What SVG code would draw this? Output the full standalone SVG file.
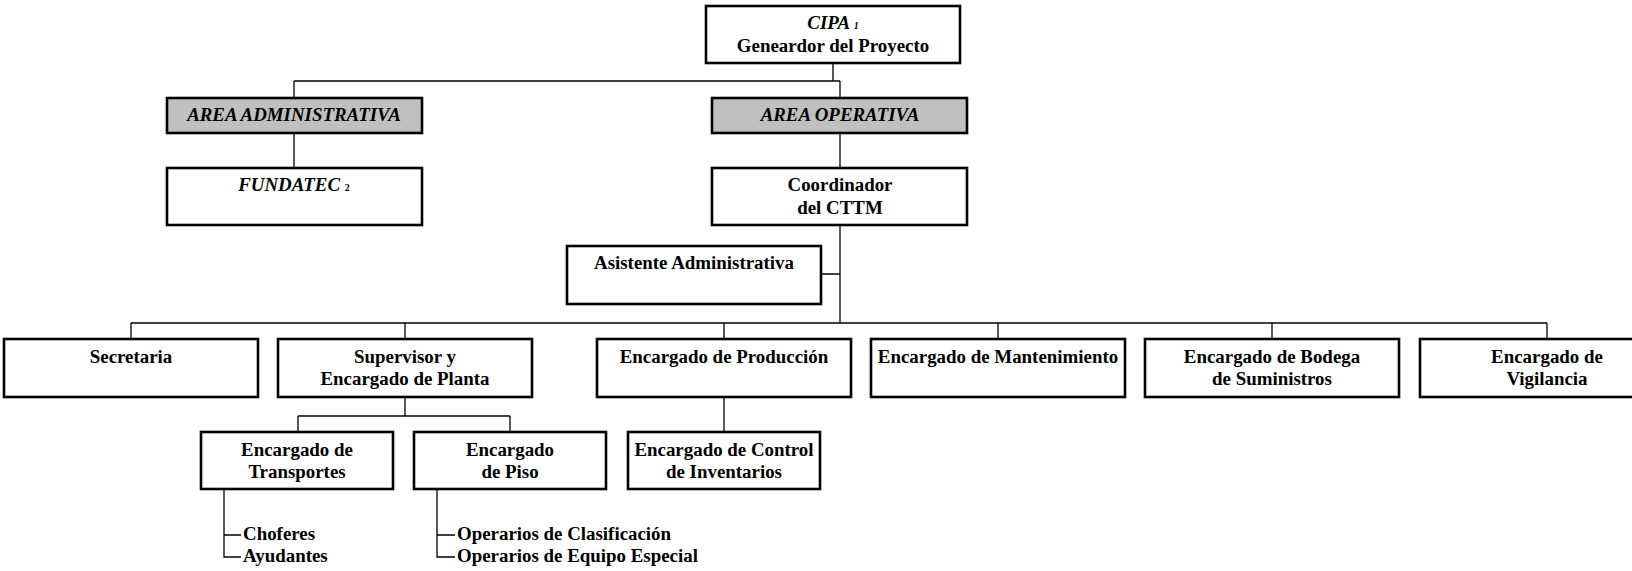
<svg xmlns="http://www.w3.org/2000/svg" width="1632" height="571" viewBox="0 0 1632 571">
<style>
.box{fill:#fff;stroke:#000;stroke-width:2.6}
.grey{fill:#c0c0c0;stroke:#000;stroke-width:2.6}
.ln{fill:none;stroke:#000;stroke-width:1.3}
text{font-family:"Liberation Serif","Times New Roman",serif;font-weight:bold;font-size:18.9px;fill:#000}
.c{text-anchor:middle}
.i{font-style:italic}
.sub{font-size:10px}
</style>
<rect width="1632" height="571" fill="#fff"/>
<g id="connectors">
<path class="ln" d="M833,63 V81 M294,81 H840 M294,81 V98 M840,81 V98"/>
<path class="ln" d="M294,133 V168 M840,133 V168"/>
<path class="ln" d="M840,225 V323 M821,274 H840"/>
<path class="ln" d="M131,323 H1547 M131,323 V338 M405,323 V338 M724,323 V338 M998,323 V338 M1272,323 V338 M1547,323 V338"/>
<path class="ln" d="M405,397 V416 M298,416 H510 M298,416 V432 M510,416 V432"/>
<path class="ln" d="M724,397 V432"/>
<path class="ln" d="M224,489 V557 H241 M224,535 H241"/>
<path class="ln" d="M437,489 V557 H455 M437,535 H455"/>
</g>
<g id="cipa"><rect class="box" x="706" y="6" width="254" height="57"/>
<text class="c i" x="833" y="29">CIPA <tspan class="sub">1</tspan></text>
<text class="c" x="833" y="52">Geneardor del Proyecto</text></g>
<g id="area-admin"><rect class="grey" x="167" y="98" width="255" height="35"/>
<text class="c i" x="294" y="121">AREA ADMINISTRATIVA</text></g>
<g id="area-op"><rect class="grey" x="712" y="98" width="255" height="35"/>
<text class="c i" x="840" y="121">AREA OPERATIVA</text></g>
<g id="fundatec"><rect class="box" x="167" y="168" width="255" height="57"/>
<text class="c i" x="294" y="191">FUNDATEC <tspan class="sub" font-style="normal">2</tspan></text></g>
<g id="coordinador"><rect class="box" x="712" y="168" width="255" height="57"/>
<text class="c" x="840" y="191">Coordinador</text>
<text class="c" x="840" y="214">del CTTM</text></g>
<g id="asistente"><rect class="box" x="567" y="246" width="254" height="58"/>
<text class="c" x="694" y="269">Asistente Administrativa</text></g>
<g id="secretaria"><rect class="box" x="4" y="339" width="254" height="58"/>
<text class="c" x="131" y="363">Secretaria</text></g>
<g id="supervisor"><rect class="box" x="278" y="339" width="254" height="58"/>
<text class="c" x="405" y="363">Supervisor y</text>
<text class="c" x="405" y="385">Encargado de Planta</text></g>
<g id="produccion"><rect class="box" x="597" y="339" width="254" height="58"/>
<text class="c" x="724" y="363">Encargado de Producción</text></g>
<g id="mantenimiento"><rect class="box" x="871" y="339" width="254" height="58"/>
<text class="c" x="998" y="363">Encargado de Mantenimiento</text></g>
<g id="bodega"><rect class="box" x="1145" y="339" width="254" height="58"/>
<text class="c" x="1272" y="363">Encargado de Bodega</text>
<text class="c" x="1272" y="385">de Suministros</text></g>
<g id="vigilancia"><rect class="box" x="1420" y="339" width="254" height="58"/>
<text class="c" x="1547" y="363">Encargado de</text>
<text class="c" x="1547" y="385">Vigilancia</text></g>
<g id="transportes"><rect class="box" x="201" y="432" width="192" height="57"/>
<text class="c" x="297" y="456">Encargado de</text>
<text class="c" x="297" y="478">Transportes</text></g>
<g id="piso"><rect class="box" x="414" y="432" width="192" height="57"/>
<text class="c" x="510" y="456">Encargado</text>
<text class="c" x="510" y="478">de Piso</text></g>
<g id="inventarios"><rect class="box" x="628" y="432" width="192" height="57"/>
<text class="c" x="724" y="456">Encargado de Control</text>
<text class="c" x="724" y="478">de Inventarios</text></g>
<g id="transportes-list">
<text x="243" y="540">Choferes</text>
<text x="243" y="562">Ayudantes</text></g>
<g id="piso-list">
<text x="457" y="540">Operarios de Clasificación</text>
<text x="457" y="562">Operarios de Equipo Especial</text></g>
</svg>
